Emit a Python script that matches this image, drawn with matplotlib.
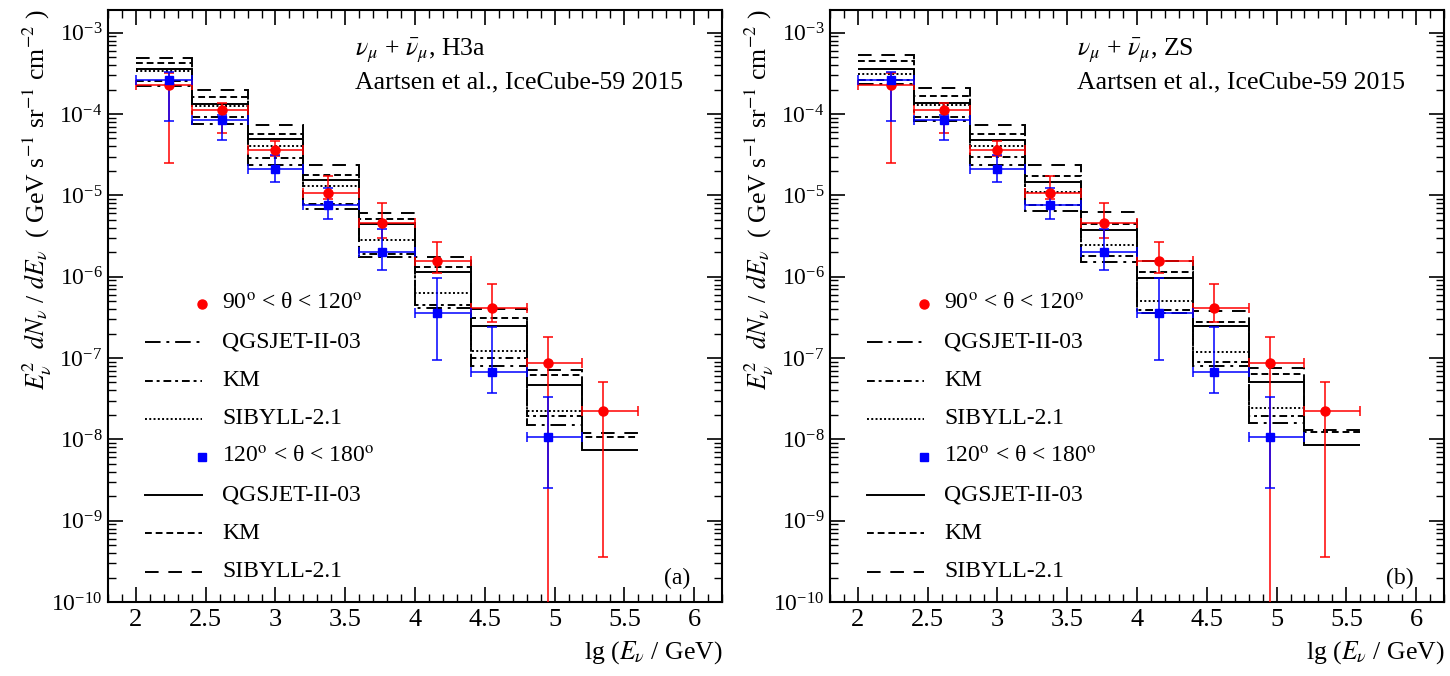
import numpy as np
import matplotlib.pyplot as plt
from matplotlib.ticker import MultipleLocator, FixedLocator, NullFormatter, StrMethodFormatter

plt.rcParams['font.family'] = ['Liberation Serif', 'DejaVu Serif']
plt.rcParams['mathtext.fontset'] = 'stix'

# bins in lg(E/GeV)
edges = [2.0, 2.4, 2.8, 3.2, 3.6, 4.0, 4.4, 4.8, 5.2, 5.6]

# IceCube-59 unfolded points, values as lg(flux)
x_pts = [2.24, 2.62, 3.00, 3.38, 3.76, 4.16, 4.55, 4.95, 5.35]
red_lg = [-3.640, -3.947, -4.439, -4.968, -5.337, -5.804, -6.383, -7.059, -7.650]
red_hi = [-3.500, -3.870, -4.337, -4.759, -5.095, -5.571, -6.087, -6.739, -7.293]
red_lo = [-4.599, -4.230, -4.513, -5.050, -5.525, -5.952, -6.555, -11.00, -9.445]
blue_lg = [-3.578, -4.070, -4.673, -5.116, -5.694, -6.444, -7.170, -7.969]
blue_hi = [-3.480, -4.009, -4.501, -4.907, -5.411, -6.013, -6.616, -7.477]
blue_lo = [-4.082, -4.316, -4.833, -5.288, -5.915, -7.022, -7.428, -8.597]

# model histograms, lg(flux), H3a primary spectrum
h3a_sib_b = [-3.308, -3.710, -4.132, -4.632, -5.218, -5.759, -6.399, -7.145, -7.916]
h3a_km_b = [-3.369, -3.791, -4.246, -4.755, -5.288, -5.875, -6.509, -7.215, -7.966]
h3a_qgs_b = [-3.443, -3.877, -4.307, -4.817, -5.349, -5.943, -6.604, -7.330, -8.129]
h3a_sib_r = [-3.467, -3.898, -4.390, -4.891, -5.546, -6.202, -6.911, -7.646]
h3a_km_r = [-3.590, -4.037, -4.541, -5.107, -5.722, -6.346, -7.001, -7.711]
h3a_qgs_r = [-3.652, -4.119, -4.632, -5.169, -5.759, -6.386, -7.096, -7.822]

# same for ZS primary spectrum
zs_sib_b = [-3.271, -3.680, -4.132, -4.632, -5.210, -5.813, -6.428, -7.117, -7.883]
zs_km_b = [-3.353, -3.775, -4.246, -4.759, -5.349, -5.943, -6.558, -7.194, -7.908]
zs_qgs_b = [-3.443, -3.865, -4.316, -4.836, -5.423, -6.017, -6.612, -7.289, -8.068]
zs_sib_r = [-3.504, -3.889, -4.390, -4.964, -5.608, -6.293, -6.927, -7.616]
zs_km_r = [-3.578, -4.037, -4.529, -5.116, -5.752, -6.407, -7.050, -7.711]
zs_qgs_r = [-3.631, -4.091, -4.624, -5.189, -5.825, -6.448, -7.096, -7.801]

y_decades = [1e-10, 1e-9, 1e-8, 1e-7, 1e-6, 1e-5, 1e-4, 1e-3]

# line styles
st_qgs_r = (0, (8, 3, 1.5, 3))
st_km_r = (0, (4, 2, 1.5, 2))
st_sib_r = (0, (1, 1.2))
st_qgs_b = '-'
st_km_b = (0, (3.5, 2))
st_sib_b = (0, (7, 5))

FS = 17


def draw_points(ax, lg, hi, lo, color, marker, ms):
    n = len(lg)
    x = np.array(x_pts[:n])
    y = 10 ** np.array(lg)
    yerr = [y - 10 ** np.array(lo), 10 ** np.array(hi) - y]
    xerr = [x - np.array(edges[:n]), np.array(edges[1:n + 1]) - x]
    ax.errorbar(x, y, yerr=yerr, xerr=xerr, fmt=marker, color=color, ms=ms,
                elinewidth=1.1, capsize=3.6, capthick=1.1, zorder=5)


def draw_panel(ax, models, tag, letter):
    for vals, ls in models:
        n = len(vals)
        ax.stairs(10 ** np.array(vals), edges[:n + 1], baseline=None,
                  color='black', linestyle=ls, linewidth=1.4, zorder=3)
    draw_points(ax, red_lg, red_hi, red_lo, 'red', 'o', 6.5)
    draw_points(ax, blue_lg, blue_hi, blue_lo, 'blue', 's', 6)

    ax.set_yscale('log')
    ax.set_xlim(1.8, 6.2)
    ax.set_ylim(1e-10, 1.9e-3)
    ax.xaxis.set_major_locator(MultipleLocator(0.5))
    ax.xaxis.set_minor_locator(MultipleLocator(0.1))
    ax.xaxis.set_major_formatter(StrMethodFormatter('{x:g}'))
    minors = [m * d for d in y_decades for m in range(2, 10) if m * d < 1.9e-3]
    ax.yaxis.set_major_locator(FixedLocator(y_decades))
    ax.yaxis.set_minor_locator(FixedLocator(minors))
    ax.yaxis.set_minor_formatter(NullFormatter())
    ax.tick_params(which='both', direction='in', top=True, right=True)
    ax.tick_params(axis='x', labelsize=19, pad=5)
    ax.tick_params(axis='y', labelsize=17, pad=4)
    ax.tick_params(which='major', length=11, width=1.2)
    ax.tick_params(which='minor', length=5.5, width=1.0)
    for sp in ax.spines.values():
        sp.set_linewidth(1.5)

    ax.set_xlabel(r'lg ($E_{\nu}$ / GeV)', fontsize=18.5, loc='right', labelpad=6)
    ax.text(-0.115, 1.0, r'$E_{\nu}^{2}$  $dN_{\nu}$ / $dE_{\nu}$  ( GeV s$^{-1}$ sr$^{-1}$ cm$^{-2}$ )',
            transform=ax.transAxes, rotation=90, ha='center', va='top', fontsize=18.5)

    ax.text(0.403, 0.932, r'$\nu_{\mu}$ + $\bar{\nu}_{\mu}$, ' + tag, transform=ax.transAxes,
            fontsize=18.5, va='center')
    ax.text(0.403, 0.878, 'Aartsen et al., IceCube-59 2015', transform=ax.transAxes,
            fontsize=18.5, va='center')
    ax.text(0.905, 0.04, letter, transform=ax.transAxes, fontsize=FS, va='center')

    # legend, drawn ROOT-like
    rows = [
        ('mk', 'red', 'o', r'90$^{\rm o}$ < θ < 120$^{\rm o}$'),
        ('ln', st_qgs_r, None, 'QGSJET-II-03'),
        ('ln', st_km_r, None, 'KM'),
        ('ln', st_sib_r, None, 'SIBYLL-2.1'),
        ('mk', 'blue', 's', r'120$^{\rm o}$ < θ < 180$^{\rm o}$'),
        ('ln', st_qgs_b, None, 'QGSJET-II-03'),
        ('ln', st_km_b, None, 'KM'),
        ('ln', st_sib_b, None, 'SIBYLL-2.1'),
    ]
    y0, dy = 0.503, 0.0645
    for i, (kind, st, mk, label) in enumerate(rows):
        yy = y0 - i * dy
        if kind == 'mk':
            ax.plot([0.153], [yy], marker=mk, color=st, ms=6.5 if mk == 'o' else 6,
                    linestyle='none', transform=ax.transAxes)
        else:
            ax.plot([0.060, 0.153], [yy, yy], color='black', linestyle=st, linewidth=1.4,
                    transform=ax.transAxes)
        ax.text(0.186, yy, label, transform=ax.transAxes, fontsize=FS, va='center')


fig = plt.figure(figsize=(14.5, 6.76), dpi=100)
ax1 = fig.add_axes([108 / 1450, 1 - 602 / 676, 614 / 1450, 592 / 676])
ax2 = fig.add_axes([830 / 1450, 1 - 602 / 676, 614 / 1450, 592 / 676])

draw_panel(ax1, [(h3a_sib_b, st_sib_b), (h3a_km_b, st_km_b), (h3a_qgs_b, st_qgs_b),
                 (h3a_sib_r, st_sib_r), (h3a_km_r, st_km_r), (h3a_qgs_r, st_qgs_r)],
           'H3a', '(a)')
draw_panel(ax2, [(zs_sib_b, st_sib_b), (zs_km_b, st_km_b), (zs_qgs_b, st_qgs_b),
                 (zs_sib_r, st_sib_r), (zs_km_r, st_km_r), (zs_qgs_r, st_qgs_r)],
           'ZS', '(b)')

fig.savefig('out.png', dpi=100)
